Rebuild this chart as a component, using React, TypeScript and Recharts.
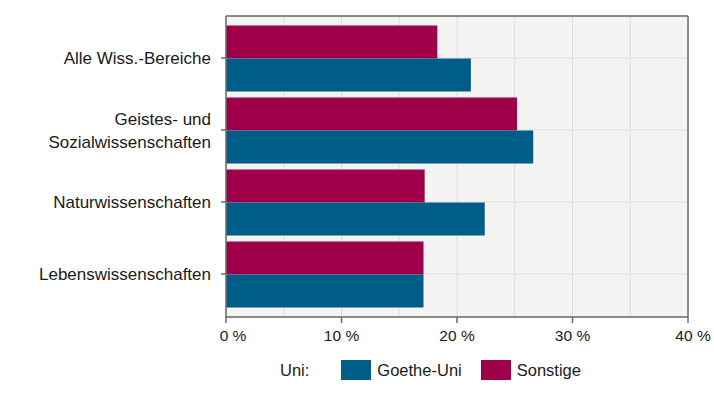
import { Bar, BarChart, CartesianGrid, Legend, ReferenceLine, XAxis, YAxis } from "recharts"

const categories = [
  "Alle Wiss.-Bereiche",
  "Geistes- und\nSozialwissenschaften",
  "Naturwissenschaften",
  "Lebenswissenschaften",
]
const goetheUni = [21.2, 26.6, 22.4, 17.1]
const sonstige = [18.3, 25.2, 17.2, 17.1]
const gridTicks = [0, 5, 10, 15, 20, 25, 30, 35, 40]

const data = categories.map((name, i) => ({
  name,
  goethe: goetheUni[i],
  sonstige: sonstige[i],
}))

const FONT = "'Liberation Sans', Arial, sans-serif"
const AXIS = "#6b6b6b"
const BLUE = "#005d88"
const RED = "#a0004a"

// multi-line category label, right aligned next to the tick
const CategoryTick = (props: any) => {
  const { x, y, payload } = props
  const lines = String(payload.value).split("\n")
  const lineH = 23
  const first = -((lines.length - 1) * lineH) / 2
  return (
    <text x={x} y={y} textAnchor="end" fill="#1a1a1a" fontSize={17} fontFamily={FONT}>
      {lines.map((l, i) => (
        <tspan key={i} x={x} dy={i === 0 ? first + 6 : lineH}>
          {l}
        </tspan>
      ))}
    </text>
  )
}

// percent labels + tick marks only every 10 %, small shift at the ends like the original
const PercentTick = (props: any) => {
  const { x, y, payload } = props
  const v = payload.value
  if (v % 10 !== 0) return null
  const dx = v === 0 ? 7 : v === 40 ? 5 : 0
  const axisY = y - 13
  return (
    <g>
      <line x1={x} x2={x} y1={axisY} y2={axisY + 6} stroke={AXIS} strokeWidth={1.5} />
      <text x={x + dx} y={y} dy="0.71em" textAnchor="middle" fill="#1a1a1a" fontSize={15.5} fontFamily={FONT}>
        {`${v} %`}
      </text>
    </g>
  )
}

const LegendContent = () => (
  <div
    style={{
      display: "flex",
      alignItems: "center",
      paddingLeft: 280,
      fontFamily: FONT,
      fontSize: 16.5,
      color: "#1a1a1a",
    }}
  >
    <span style={{ marginRight: 32 }}>Uni:</span>
    <span style={{ width: 30, height: 20, background: BLUE, marginRight: 6 }} />
    <span style={{ marginRight: 19 }}>Goethe-Uni</span>
    <span style={{ width: 30, height: 20, background: RED, marginRight: 6 }} />
    <span>Sonstige</span>
  </div>
)

export default function App() {
  return (
    <>
      <style>{"body{margin:0}"}</style>
      <BarChart
        width={714}
        height={410}
        data={data}
        layout="vertical"
        margin={{ top: 15, right: 26, left: 0, bottom: 0 }}
        barCategoryGap={3.5}
        barGap={0}
      >
        <CartesianGrid fill="#f4f4f2" stroke="#deded9" />
        <XAxis
          xAxisId="top"
          orientation="top"
          type="number"
          domain={[0, 40]}
          ticks={gridTicks}
          height={1}
          tick={false}
          tickSize={4}
          tickLine={{ stroke: "#d0d0cc" }}
          axisLine={{ stroke: AXIS, strokeWidth: 1.5 }}
        />
        <XAxis
          type="number"
          domain={[0, 40]}
          ticks={gridTicks}
          interval={0}
          height={93}
          tickSize={6}
          tickMargin={7}
          tick={<PercentTick />}
          tickLine={false}
          axisLine={{ stroke: AXIS, strokeWidth: 1.5 }}
        />
        <YAxis
          type="category"
          dataKey="name"
          width={226}
          padding={{ top: 6, bottom: 7 }}
          tickSize={5}
          tickMargin={10}
          tick={<CategoryTick />}
          tickLine={{ stroke: AXIS, strokeWidth: 1.5 }}
          axisLine={{ stroke: AXIS, strokeWidth: 1.5 }}
          interval={0}
        />
        <ReferenceLine x={40} stroke={AXIS} strokeWidth={1.5} />
        <Legend
          layout="horizontal"
          verticalAlign="middle"
          align="center"
          wrapperStyle={{ position: "absolute", top: 360, left: 0, width: 714 }}
          content={<LegendContent />}
        />
        <Bar dataKey="sonstige" name="Sonstige" fill={RED} isAnimationActive={false} />
        <Bar dataKey="goethe" name="Goethe-Uni" fill={BLUE} isAnimationActive={false} />
      </BarChart>
    </>
  )
}
